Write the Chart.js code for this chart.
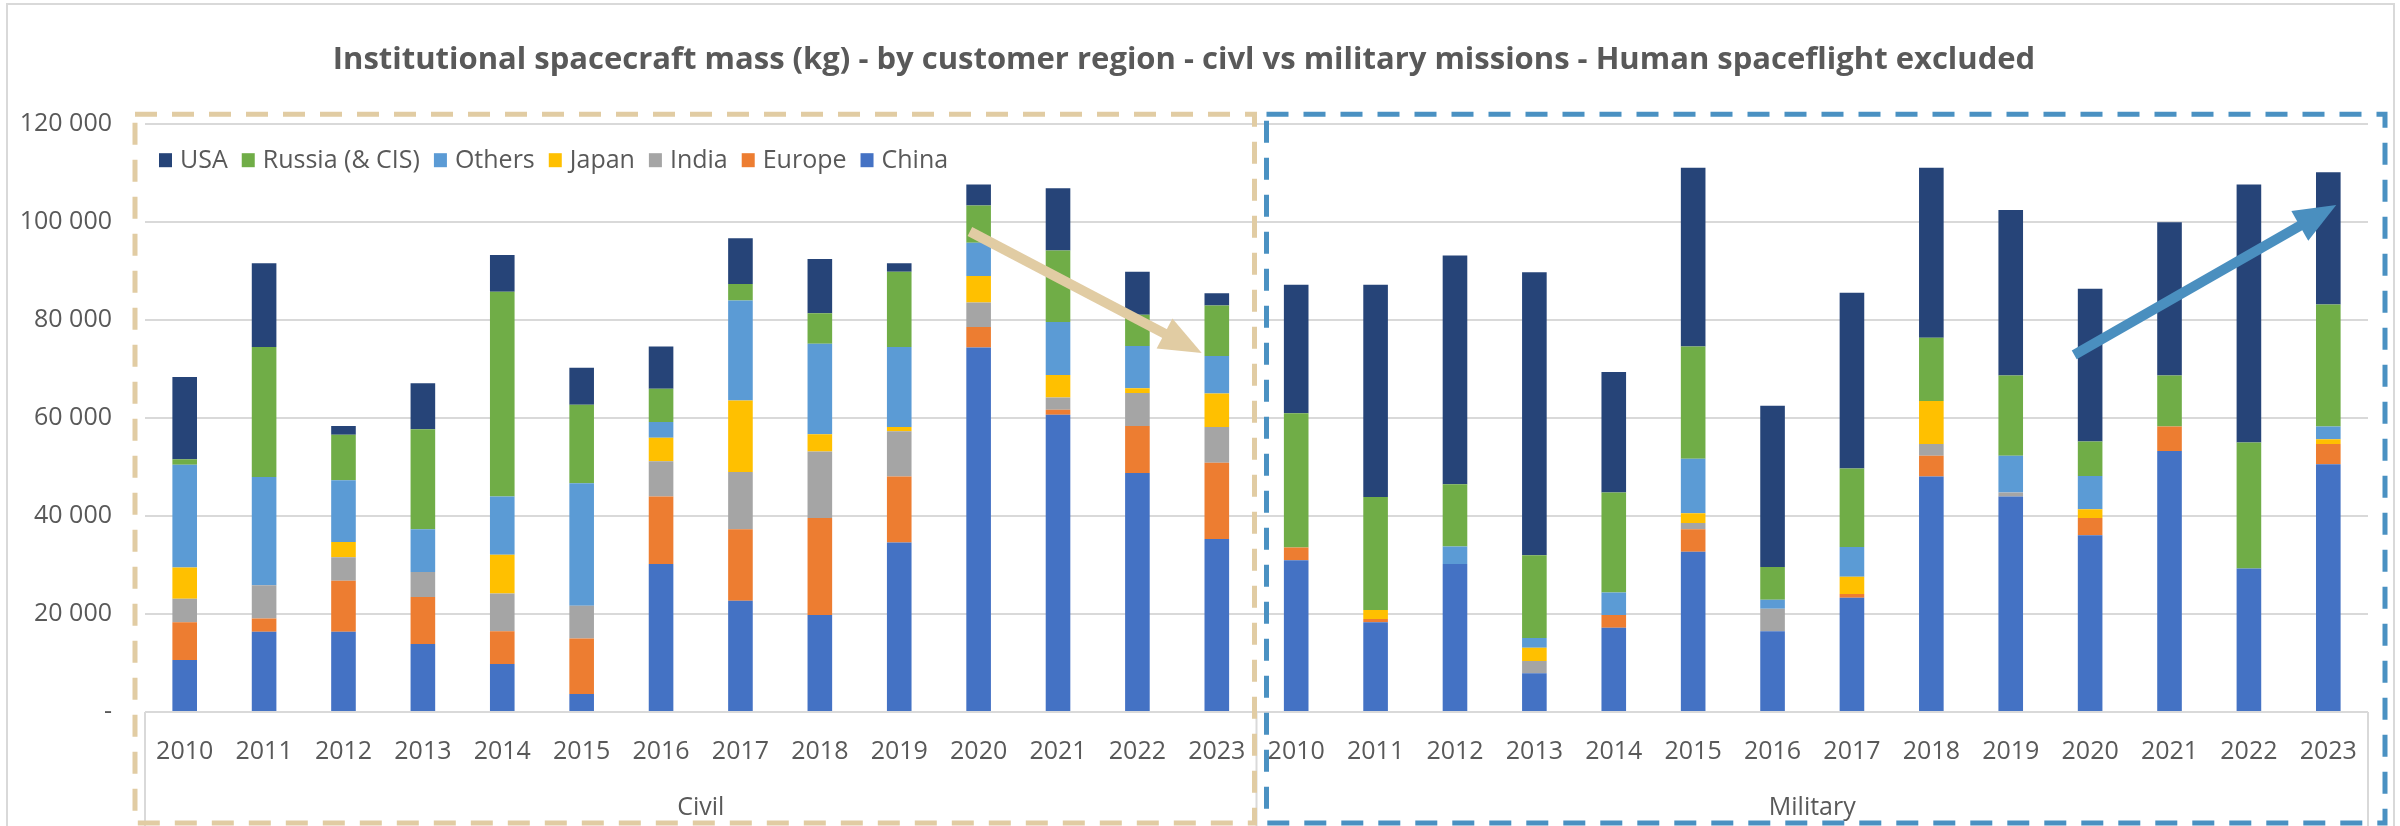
<!DOCTYPE html>
<html>
<head>
<meta charset="utf-8">
<title>Institutional spacecraft mass</title>
<script src="https://cdn.jsdelivr.net/npm/chart.js@4/dist/chart.umd.min.js"></script>
<style>
  html, body { margin: 0; padding: 0; background: #fff; }
  #wrap { width: 2400px; height: 826px; }
</style>
</head>
<body>
<div id="wrap"><canvas id="massChart" width="2400" height="826"></canvas></div>
<script>
// categories
const years = ['2010', '2011', '2012', '2013', '2014', '2015', '2016', '2017', '2018', '2019', '2020', '2021', '2022', '2023']
const groups = ['Civil', 'Military']
const yTicks = [0, 20000, 40000, 60000, 80000, 100000, 120000]

// civil missions, kg per year
const chinaCivil  = [10600, 16400, 16400, 13900,  9800,  3700, 30200, 22700, 19800, 34600, 74400, 60700, 48800, 35300]
const europeCivil = [ 7700,  2700, 10400,  9600,  6700, 11300, 13800, 14600, 19800, 13500,  4200,  1000,  9600, 15600]
const indiaCivil  = [ 4800,  6800,  4800,  5100,  7700,  6700,  7200, 11700, 13600,  9200,  5000,  2500,  6700,  7300]
const japanCivil  = [ 6400,     0,  3100,     0,  7900,     0,  4800, 14600,  3500,   900,  5400,  4600,  1000,  6800]
const othersCivil = [21000, 22100, 12600,  8700, 11900, 25000,  3200, 20400, 18500, 16300,  6800, 10800,  8600,  7700]
const russiaCivil = [ 1100, 26500,  9300, 20400, 41800, 16000,  6800,  3400,  6200, 15400,  7600, 14600,  6400, 10300]
const usaCivil    = [16800, 17100,  1800,  9400,  7500,  7600,  8600,  9300, 11100,  1700,  4300, 12700,  8800,  2500]

// military missions, kg per year
const chinaMil  = [31000, 18300, 30200,  7900, 17200, 32700, 16500, 23300, 48100, 44000, 36100, 53300, 29300, 50600]
const europeMil = [ 2600,   700,     0,     0,  2600,  4600,     0,   800,  4200,     0,  3500,  5000,     0,  4100]
const indiaMil  = [    0,     0,     0,  2500,     0,  1300,  4600,     0,  2400,   800,     0,     0,     0,     0]
const japanMil  = [    0,  1800,     0,  2700,     0,  2000,     0,  3500,  8800,     0,  1800,     0,     0,  1000]
const othersMil = [    0,     0,  3600,  2000,  4600, 11100,  1800,  6100,     0,  7500,  6800,     0,     0,  2600]
const russiaMil = [27400, 23100, 12700, 16900, 20400, 22900,  6700, 16000, 12900, 16400,  7000, 10400, 25700, 24900]
const usaMil    = [26200, 43300, 46700, 57800, 24600, 36500, 32900, 35900, 34700, 33800, 31200, 31300, 52700, 27000]

const TXT = '#595959'
const GRID = '#d9d9d9'
const TAN = '#e1cca3'
const BLUE = '#4a91c2'

Chart.defaults.font.family = '"Open Sans", "Liberation Sans", sans-serif'
Chart.defaults.color = TXT

function series(label, civil, mil, color) {
    return {
        label: label,
        data: civil.concat(mil),
        backgroundColor: color,
        borderWidth: 0,
        barPercentage: 0.31,
        categoryPercentage: 1
    }
}

function fmt(v) {
    if (v === 0) return '-'
    return String(v).replace(/\B(?=(\d{3})+(?!\d))/g, ' ')
}

// position on the category axis, fractional index allowed
function xAt(chart, idx) {
    return chart.scales.x.getPixelForValue(idx)
}

function drawArrow(ctx, x1, y1, x2, y2, color) {
    const ang = Math.atan2(y2 - y1, x2 - x1)
    const len = Math.hypot(x2 - x1, y2 - y1)
    ctx.save()
    ctx.translate(x1, y1)
    ctx.rotate(ang)
    ctx.fillStyle = color
    ctx.fillRect(0, -5, len - 38, 10)
    ctx.beginPath()
    ctx.moveTo(len, 0)
    ctx.lineTo(len - 42, -17)
    ctx.lineTo(len - 42, 17)
    ctx.closePath()
    ctx.fill()
    ctx.restore()
}

// white background + light chart border
const frame = {
    id: 'frame',
    beforeDraw(chart) {
        const ctx = chart.ctx
        ctx.save()
        ctx.fillStyle = '#fff'
        ctx.fillRect(0, 0, chart.width, chart.height)
        ctx.strokeStyle = GRID
        ctx.lineWidth = 2
        ctx.strokeRect(7, 4, chart.width - 13, chart.height + 10)
        ctx.restore()
    }
}

// lines of the two-level category axis
const axisBox = {
    id: 'axisBox',
    beforeDatasetsDraw(chart) {
        const ctx = chart.ctx
        const x = chart.scales.x
        const bottom = chart.chartArea.bottom
        const split = (xAt(chart, years.length - 1) + xAt(chart, years.length)) / 2
        ctx.save()
        ctx.strokeStyle = GRID
        ctx.lineWidth = 2
        ctx.beginPath()
        for (const px of [x.left, split, x.right]) {
            ctx.moveTo(px, bottom)
            ctx.lineTo(px, chart.height)
        }
        ctx.stroke()
        ctx.restore()
    }
}

// legend inside the plot, dashed group frames and trend arrows
const callouts = {
    id: 'callouts',
    afterDatasetsDraw(chart) {
        const ctx = chart.ctx
        const x = chart.scales.x
        const y = chart.scales.y
        const split = (xAt(chart, years.length - 1) + xAt(chart, years.length)) / 2

        ctx.save()
        ctx.lineWidth = 5
        ctx.setLineDash([22, 15])
        ctx.strokeStyle = TAN
        ctx.strokeRect(x.left - 10, y.top - 10, split - 2 - (x.left - 10), chart.height - 3 - (y.top - 10))
        ctx.strokeStyle = BLUE
        ctx.strokeRect(split + 10, y.top - 10, x.right + 17 - (split + 10), chart.height - 3 - (y.top - 10))
        ctx.restore()

        drawArrow(ctx, xAt(chart, 9.89), y.getPixelForValue(98100), xAt(chart, 12.81), y.getPixelForValue(73300), TAN)
        drawArrow(ctx, xAt(chart, 23.8), y.getPixelForValue(72900), xAt(chart, 27.1), y.getPixelForValue(103500), '#4a8fbf')

        // legend, top of stack first
        ctx.save()
        ctx.font = '25px "Open Sans", "Liberation Sans", sans-serif'
        ctx.textBaseline = 'middle'
        let lx = x.left + 14
        const ly = y.top + 36
        const sets = chart.data.datasets.slice().reverse()
        for (const ds of sets) {
            ctx.fillStyle = ds.backgroundColor
            ctx.fillRect(lx, ly - 7, 13, 14)
            ctx.fillStyle = TXT
            ctx.fillText(ds.label, lx + 21, ly + 1)
            lx += 21 + ctx.measureText(ds.label).width + 14
        }
        ctx.restore()
    }
}

const labels = years.concat(years)

const chart = new Chart(document.getElementById('massChart'), {
    type: 'bar',
    data: {
        labels: labels,
        datasets: [
            series('China', chinaCivil, chinaMil, '#4472c4'),
            series('Europe', europeCivil, europeMil, '#ed7d31'),
            series('India', indiaCivil, indiaMil, '#a5a5a5'),
            series('Japan', japanCivil, japanMil, '#ffc000'),
            series('Others', othersCivil, othersMil, '#5b9bd5'),
            series('Russia (& CIS)', russiaCivil, russiaMil, '#70ad47'),
            series('USA', usaCivil, usaMil, '#264478')
        ]
    },
    options: {
        responsive: false,
        animation: false,
        devicePixelRatio: 1,
        events: [],
        layout: { padding: { left: 0, right: 32, top: 0, bottom: 5 } },
        plugins: {
            legend: { display: false },
            tooltip: { enabled: false },
            title: {
                display: true,
                text: 'Institutional spacecraft mass (kg) - by customer region - civl vs military missions - Human spaceflight excluded',
                color: TXT,
                font: { size: 31, weight: 'bold' },
                padding: { top: 42, bottom: 45 }
            }
        },
        scales: {
            x: {
                stacked: true,
                afterFit(scale) { scale.height = 55 },
                grid: { display: false, drawTicks: false },
                border: { display: false },
                ticks: { autoSkip: false, maxRotation: 0, minRotation: 0, padding: 25, font: { size: 25 }, color: TXT }
            },
            x2: {
                type: 'category',
                labels: groups,
                position: 'bottom',
                weight: 1,
                offset: true,
                afterFit(scale) { scale.height = 54 },
                grid: { display: false, drawTicks: false },
                border: { display: false },
                ticks: { maxRotation: 0, minRotation: 0, padding: 26, font: { size: 25 }, color: TXT }
            },
            y: {
                stacked: true,
                min: 0,
                max: yTicks[yTicks.length - 1],
                afterFit(scale) { scale.width = 145 },
                afterBuildTicks(scale) { scale.ticks = yTicks.map(v => ({ value: v })) },
                grid: { color: GRID, lineWidth: 2, drawTicks: false },
                border: { display: false },
                ticks: { padding: 33, font: { size: 25 }, color: TXT, callback: v => fmt(v) }
            }
        }
    },
    plugins: [frame, axisBox, callouts]
})
</script>
</body>
</html>
